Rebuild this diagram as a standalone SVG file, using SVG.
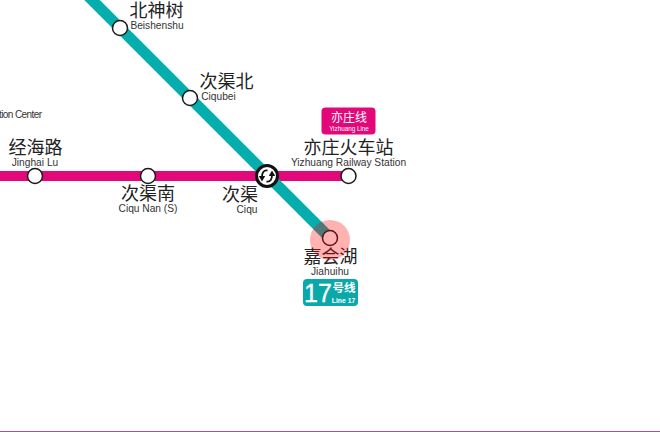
<svg xmlns="http://www.w3.org/2000/svg" width="660" height="432" viewBox="0 0 660 432">
<style>
.zh{font-family:"Noto Sans CJK SC","Noto Sans CJK JP",sans-serif;font-size:18px;fill:#222;text-anchor:middle}
.en{font-family:"Liberation Sans",Arial,sans-serif;font-size:10.200px;fill:#333;text-anchor:middle}
.st{fill:#fff;stroke:#1a1a1a;stroke-width:1.500}
.w{fill:#fff;text-anchor:middle}
</style>
<rect width="660" height="432" fill="#fff"/>
<g id="connectors" fill="none">
<path d="M0 176H348" stroke="#E2087A" stroke-width="10"/>
<path d="M88 -4L330 238" stroke="#05ADAD" stroke-width="11"/>
</g>
<g id="beishenshu"><circle class="st" cx="120" cy="28" r="7.500"/><text class="zh" x="156.500" y="17">北神树</text><text class="en" x="157" y="29">Beishenshu</text></g>
<g id="ciqubei"><circle class="st" cx="190" cy="98" r="7.500"/><text class="zh" x="226.500" y="88">次渠北</text><text class="en" x="218.500" y="100">Ciqubei</text></g>
<g id="jinghailu"><circle class="st" cx="35" cy="176" r="7.500"/><text class="zh" x="35.500" y="154">经海路</text><text class="en" x="35" y="166">Jinghai Lu</text></g>
<g id="ciqunan"><circle class="st" cx="148" cy="176" r="7.500"/><text class="zh" x="148" y="200">次渠南</text><text class="en" x="148" y="212">Ciqu Nan (S)</text></g>
<g id="ciqu">
<circle cx="267" cy="176" r="10.500" fill="#fff" stroke="#111" stroke-width="3"/>
<path d="M267.500 170.500C263.500 169.800 262 173 262 177M266.500 181.500C270.500 182.200 272 179 272 175" fill="none" stroke="#111" stroke-width="1.800"/>
<path d="M258.800 176H265.200L262 181.500ZM268.800 176H275.200L272 170.500Z" fill="#111"/>
<text class="zh" x="240" y="201">次渠</text><text class="en" x="247" y="213">Ciqu</text></g>
<g id="yizhuang"><circle class="st" cx="348.500" cy="176" r="7.500"/><text class="zh" x="348.500" y="154">亦庄火车站</text><text class="en" x="348.500" y="166">Yizhuang Railway Station</text></g>
<g id="yizhuang-badge"><rect x="321.500" y="107.500" width="54" height="27" rx="4" fill="#E2087A"/><text class="w" x="349" y="122" style="font-family:'Noto Sans CJK SC',sans-serif;font-size:12px">亦庄线</text><text class="w" x="349" y="131" style="font-family:'Liberation Sans',sans-serif;font-size:6.300px">Yizhuang Line</text></g>
<g id="jiahuihu"><circle class="st" cx="330" cy="238" r="7.500"/><text class="zh" x="330.500" y="263">嘉会湖</text><text class="en" x="330" y="275">Jiahuihu</text></g>
<g id="line17-badge"><rect x="303" y="279" width="55" height="27" rx="4" fill="#0AA8A8"/><text class="w" x="318" y="302" style="font-family:'Liberation Sans',sans-serif;font-size:25px;stroke:#fff;stroke-width:.3">17</text><text class="w" x="344" y="292" style="font-family:'Noto Sans CJK SC',sans-serif;font-size:11.500px;font-weight:700">号线</text><text class="w" x="343.500" y="302.500" style="font-family:'Liberation Sans',sans-serif;font-size:6.800px;font-weight:700">Line 17</text></g>
<text x="-6" y="118" style="font-family:'Liberation Sans',sans-serif;font-size:10px;fill:#333" textLength="48">ntion Center</text>
<circle id="highlight" cx="330" cy="240" r="20" fill="#f00" fill-opacity=".3"/>
<path d="M0 431.500H660" stroke="#A84D97" stroke-width="1"/>
</svg>
